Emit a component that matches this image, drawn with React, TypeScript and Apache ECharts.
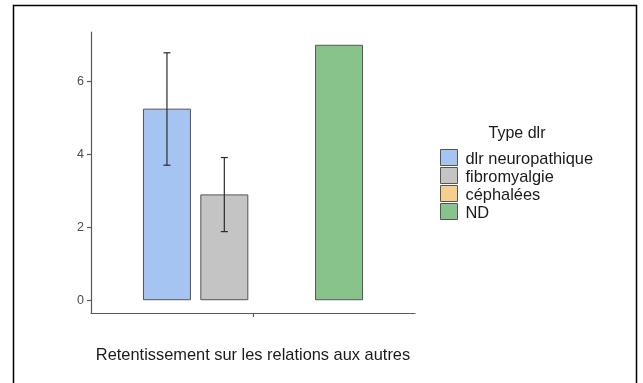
import React, { useEffect, useRef } from "react";
import * as echarts from "echarts";

const categories = [""];
const xTitle = "Retentissement sur les relations aux autres";
const legendTitle = "Type dlr";
const types = ["dlr neuropathique", "fibromyalgie", "céphalées", "ND"];
const colors = ["#A6C4F1", "#C4C4C4", "#F6CE8E", "#88C38C"];
const means: (number | null)[] = [5.25, 2.9, null, 7];
const errLow: (number | null)[] = [3.7, 1.88, null, null];
const errHigh: (number | null)[] = [6.78, 3.91, null, null];
const yTicks = [0, 2, 4, 6];

const FONT = "'Liberation Sans', Arial, sans-serif";
const BAR_W = 48;
const BAR_GAP = 0.195;

export default function App() {
  const ref = useRef<HTMLDivElement>(null);
  useEffect(() => {
    if (!ref.current) return;
    const chart = echarts.init(ref.current, null, { renderer: "svg" });
    const n = types.length;
    const barSeries = types.map((t, i) => ({
      name: t,
      type: "bar",
      data: [means[i] === null ? "-" : means[i]],
      barWidth: BAR_W,
      barGap: `${BAR_GAP * 100}%`,
      itemStyle: { color: colors[i], borderColor: "#555555", borderWidth: 1 },
    }));
    const errData: any[] = [];
    types.forEach((t, i) => {
      if (errLow[i] !== null && errHigh[i] !== null) errData.push([0, errLow[i], errHigh[i], i]);
    });
    const errSeries = {
      type: "custom",
      name: "err",
      data: errData,
      z: 10,
      renderItem: (params: any, api: any) => {
        const idx = api.value(3);
        const lo = api.coord([api.value(0), api.value(1)]);
        const hi = api.coord([api.value(0), api.value(2)]);
        const off = (idx - (n - 1) / 2) * BAR_W * (1 + BAR_GAP);
        const x = lo[0] + off;
        const cap = 3.5;
        const style = { stroke: "#2b2b2b", lineWidth: 1.2 };
        return {
          type: "group",
          children: [
            { type: "line", shape: { x1: x, y1: lo[1], x2: x, y2: hi[1] }, style },
            { type: "line", shape: { x1: x - cap, y1: lo[1], x2: x + cap, y2: lo[1] }, style },
            { type: "line", shape: { x1: x - cap, y1: hi[1], x2: x + cap, y2: hi[1] }, style },
          ],
        };
      },
    };
    chart.setOption({
      animation: false,
      textStyle: { fontFamily: FONT },
      grid: { left: 91, right: 228, top: 32, bottom: 70, containLabel: false },
      xAxis: {
        type: "category",
        data: categories,
        name: xTitle,
        nameLocation: "middle",
        nameGap: 33,
        nameTextStyle: { fontSize: 16.4, color: "#1a1a1a", fontFamily: FONT },
        axisLine: { onZero: false, lineStyle: { color: "#5a5a5a", width: 1.2 } },
        axisTick: { show: true, alignWithLabel: true, length: 4, lineStyle: { color: "#5a5a5a", width: 1.2 } },
        axisLabel: { show: true, fontSize: 12 },
      },
      yAxis: {
        type: "value",
        min: -0.35,
        max: 7.35,
        axisLine: { show: true, onZero: false, lineStyle: { color: "#5a5a5a", width: 1.2 } },
        axisTick: { show: true, length: 4, customValues: yTicks, lineStyle: { color: "#5a5a5a", width: 1.2 } },
        axisLabel: { customValues: yTicks, fontSize: 12.5, color: "#4d4d4d", margin: 7, fontFamily: FONT },
        splitLine: { show: false },
      },
      legend: {
        orient: "vertical",
        left: 435,
        top: 144,
        itemWidth: 17,
        itemHeight: 16,
        itemGap: 1,
        icon: "rect",
        data: types,
        itemStyle: { borderWidth: 1, borderColor: "#555555" },
        textStyle: { fontSize: 16.4, color: "#1a1a1a", fontFamily: FONT, padding: [0, 0, 0, 3], lineHeight: 16 },
        selectedMode: false,
      },
      graphic: [
        {
          type: "text",
          x: 517,
          y: 132,
          style: { text: legendTitle, fontSize: 16, fill: "#1a1a1a", fontFamily: FONT, textAlign: "center", textVerticalAlign: "middle" },
        },
        {
          type: "rect",
          shape: { x: 13.5, y: 5.5, width: 623, height: 400 },
          style: { fill: "none", stroke: "#000", lineWidth: 1.5 },
          silent: true,
        },
      ],
      series: [...barSeries, errSeries],
    });
    return () => chart.dispose();
  }, []);
  return <div ref={ref} style={{ position: "fixed", left: 0, top: 0, width: 643, height: 383 }} />;
}
